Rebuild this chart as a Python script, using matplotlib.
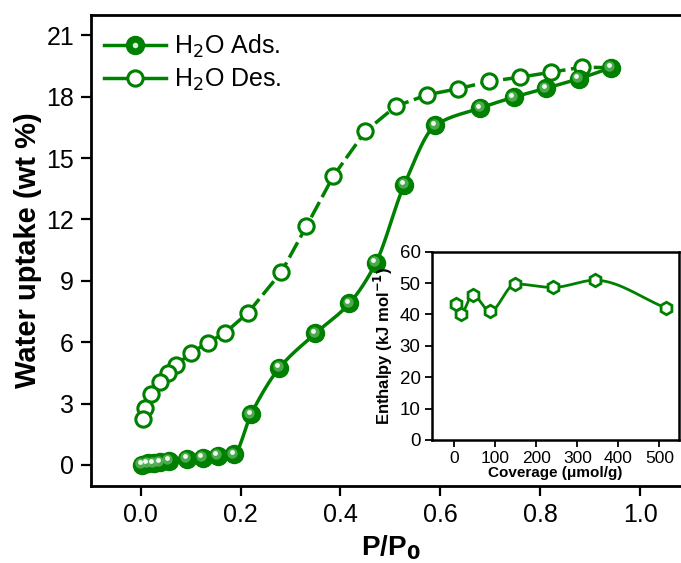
import numpy as np
import matplotlib
matplotlib.use("Agg")
import matplotlib.pyplot as plt
from matplotlib.transforms import ScaledTranslation
from matplotlib.legend_handler import HandlerTuple

plt.rcParams['font.family'] = ['Liberation Sans', 'DejaVu Sans']

# adsorption branch
ads_p = [0.003, 0.014, 0.026, 0.039, 0.057, 0.093, 0.124, 0.154, 0.187, 0.221,
         0.278, 0.350, 0.418, 0.471, 0.528, 0.590, 0.680, 0.747, 0.812, 0.877, 0.942]
ads_w = [0.0, 0.08, 0.08, 0.13, 0.20, 0.29, 0.36, 0.44, 0.52, 2.48,
         4.75, 6.43, 7.90, 9.88, 13.71, 16.60, 17.45, 17.98, 18.42, 18.88, 19.42]

# desorption branch
des_p = [0.942, 0.884, 0.822, 0.760, 0.698, 0.635, 0.574, 0.511, 0.450, 0.386,
         0.332, 0.282, 0.215, 0.169, 0.134, 0.101, 0.071, 0.054, 0.038, 0.021, 0.009, 0.004]
des_w = [19.42, 19.45, 19.20, 18.96, 18.75, 18.39, 18.10, 17.54, 16.31, 14.13,
         11.67, 9.44, 7.44, 6.46, 5.97, 5.48, 4.88, 4.48, 4.04, 3.47, 2.77, 2.23]

# inset: isosteric enthalpy
cov = [3, 16, 45, 87, 149, 240, 343, 517]
enth = [43.4, 40.2, 46.2, 41.0, 49.7, 48.6, 50.9, 42.0]

GREEN = '#008000'


def pchip(x, y, n=400):
    # monotone cubic curve through the points, just for drawing the line
    x = np.asarray(x, float)
    y = np.asarray(y, float)
    h = np.diff(x)
    d = np.diff(y) / h
    m = np.zeros_like(y)
    for k in range(1, len(x) - 1):
        if d[k - 1] * d[k] > 0:
            w1 = 2 * h[k] + h[k - 1]
            w2 = h[k] + 2 * h[k - 1]
            m[k] = (w1 + w2) / (w1 / d[k - 1] + w2 / d[k])
    m[0] = d[0]
    m[-1] = d[-1]
    xs = np.linspace(x[0], x[-1], n)
    idx = np.clip(np.searchsorted(x, xs) - 1, 0, len(x) - 2)
    t = (xs - x[idx]) / h[idx]
    h00 = 2 * t**3 - 3 * t**2 + 1
    h10 = t**3 - 2 * t**2 + t
    h01 = -2 * t**3 + 3 * t**2
    h11 = t**3 - t**2
    ys = h00 * y[idx] + h10 * h[idx] * m[idx] + h01 * y[idx + 1] + h11 * h[idx] * m[idx + 1]
    return xs, ys


fig = plt.figure(figsize=(6.81, 5.63), dpi=100)
ax = fig.add_axes([0.1332, 0.1368, 0.880, 0.8366])

# desorption (open circles, dashed)
ax.plot(des_p, des_w, color=GREEN, lw=2.5, ls=(0, (5, 1.6)), zorder=2)
ax.plot(des_p, des_w, 'o', ms=11, mfc='white', mec=GREEN, mew=2.2, zorder=3)

# adsorption (shaded spheres, smooth line)
sx, sy = pchip(ads_p, ads_w)
ax.plot(sx, sy, color=GREEN, lw=2.5, zorder=4)
ax.plot(ads_p, ads_w, 'o', ms=13, color=GREEN, mec=GREEN, zorder=5)
glow = ax.transData + ScaledTranslation(-1.2 / 72, 1.2 / 72, fig.dpi_scale_trans)
shine = ax.transData + ScaledTranslation(-1.8 / 72, 1.8 / 72, fig.dpi_scale_trans)
ax.plot(ads_p, ads_w, 'o', ms=7.5, color='#5fb35f', mec='none', alpha=0.8,
        transform=glow, zorder=6)
ax.plot(ads_p, ads_w, 'o', ms=3.5, color='#eef8ee', mec='none',
        transform=shine, zorder=7)

ax.set_xlim(-0.1, 1.1)
ax.set_ylim(-1.03, 22.0)
ax.set_xticks(np.arange(0, 1.01, 0.2))
ax.set_xticklabels(['0.0', '0.2', '0.4', '0.6', '0.8', '1.0'])
ax.set_yticks(range(0, 22, 3))
ax.tick_params(direction='out', length=7, width=1.6, labelsize=18, pad=5)
for s in ax.spines.values():
    s.set_linewidth(2)
ax.set_xlabel('P/P$_\\mathbf{0}$', fontsize=20, fontweight='bold', labelpad=5)
ax.set_ylabel('Water uptake (wt %)', fontsize=21, fontweight='bold', labelpad=3)

# legend
h_ads = plt.Line2D([], [], color=GREEN, lw=2.5, marker='o', ms=13, mfc=GREEN, mec=GREEN)
h_shine = plt.Line2D([], [], ls='none', marker='o', ms=4, mfc='#d8eed8', mec='none')
h_des = plt.Line2D([], [], color=GREEN, lw=2.5, marker='o', ms=11, mfc='white',
                   mec=GREEN, mew=2.2)
ax.legend([(h_ads, h_shine), h_des], ['H$_2$O Ads.', 'H$_2$O Des.'],
          handler_map={tuple: HandlerTuple(ndivide=1)},
          loc='upper left', bbox_to_anchor=(-0.003, 0.995), frameon=False,
          fontsize=18, handlelength=2.5, handletextpad=0.3, labelspacing=0.3,
          borderaxespad=0.2)

# inset
ins = fig.add_axes([0.634, 0.2185, 0.3631, 0.3345])
ins.set_facecolor('white')
ix, iy = pchip(cov, enth)
ins.plot(ix, iy, color=GREEN, lw=2)
ins.plot(cov, enth, 'h', ms=9, mfc='white', mec=GREEN, mew=2)
ins.set_xlim(-55, 548)
ins.set_ylim(0, 60)
ins.set_xticks(range(0, 501, 100))
ins.set_yticks(range(0, 61, 10))
ins.tick_params(direction='out', length=5, width=1.3, pad=3)
ins.tick_params(axis='x', labelsize=12.5)
ins.tick_params(axis='y', labelsize=13.5)
for s in ins.spines.values():
    s.set_linewidth(1.8)
ins.set_xlabel('Coverage (μmol/g)', fontsize=11, fontweight='bold', labelpad=0)
ins.set_ylabel('Enthalpy (kJ mol$^\\mathbf{-1}$)', fontsize=12, fontweight='bold',
               labelpad=3)

fig.savefig('out.png', dpi=100)
